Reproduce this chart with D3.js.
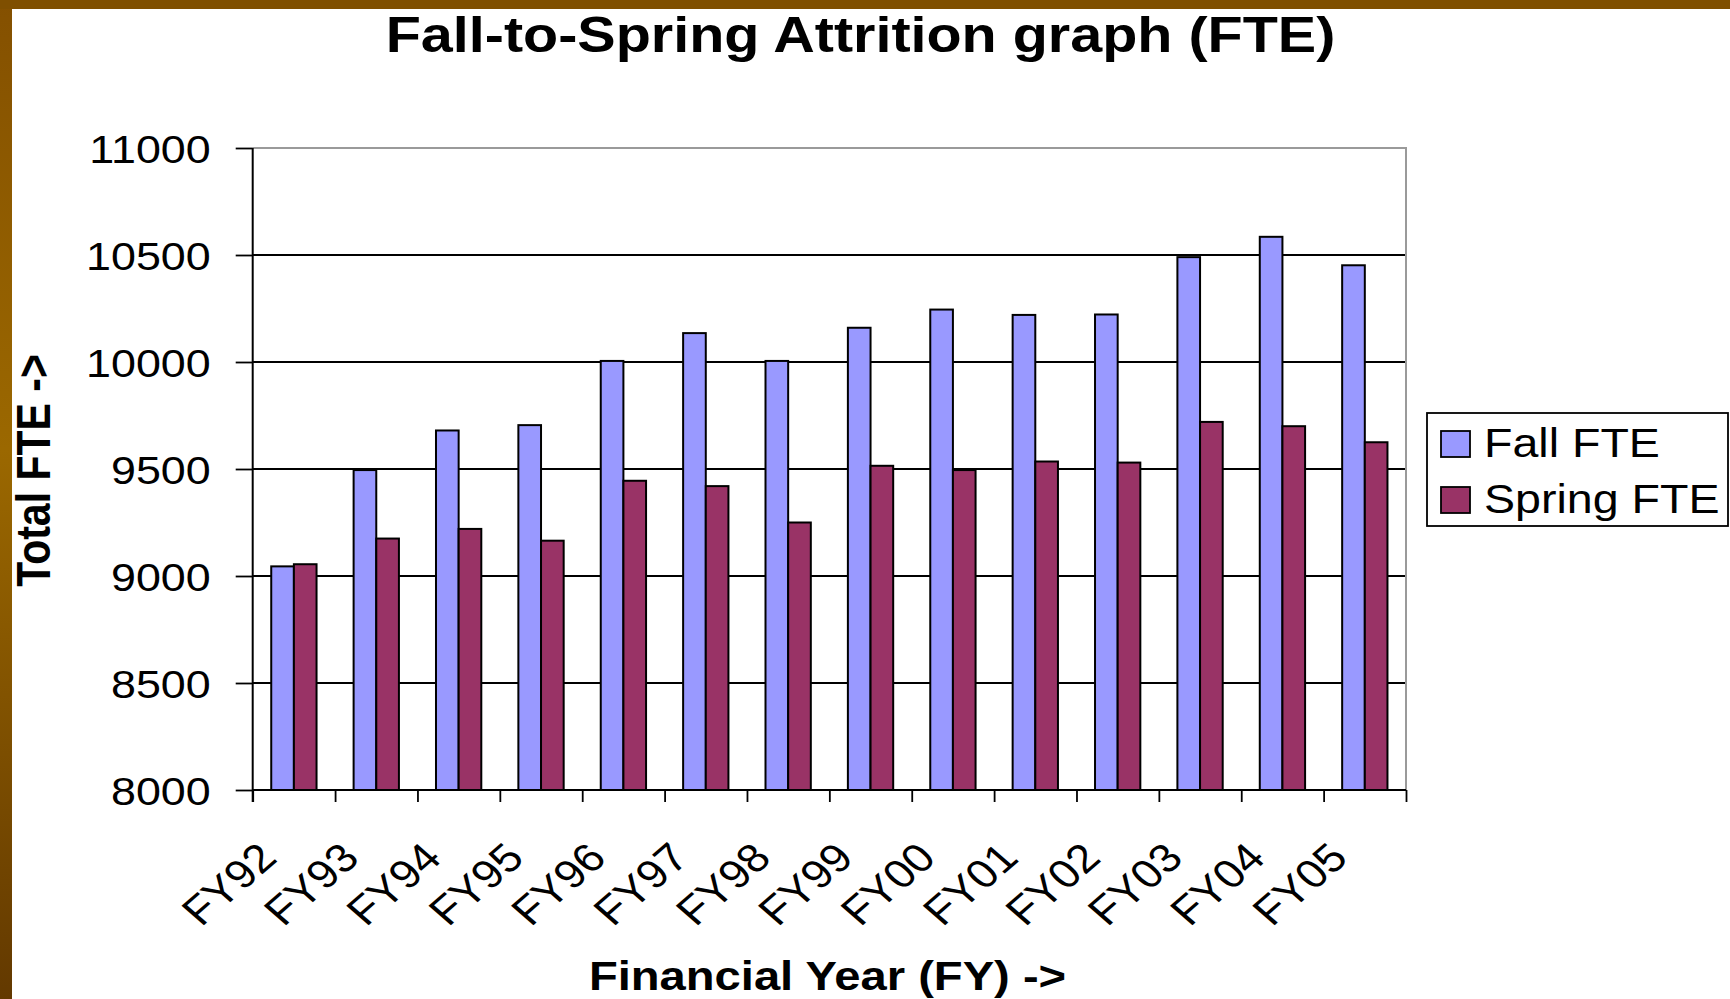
<!DOCTYPE html>
<html>
<head>
<meta charset="utf-8">
<title>Fall-to-Spring Attrition graph (FTE)</title>
<script src="https://cdn.jsdelivr.net/npm/d3@7"></script>
<style>
    body { margin: 0; background: #ffffff; }
    #chart { width: 1730px; height: 999px; }
    text { font-family: "Liberation Sans", Arial, sans-serif; fill: #000; }
</style>
</head>
<body>
<div id="chart"></div>
<script>
// Chart values
const years = ['FY92', 'FY93', 'FY94', 'FY95', 'FY96', 'FY97', 'FY98',
               'FY99', 'FY00', 'FY01', 'FY02', 'FY03', 'FY04', 'FY05'];
const fallFTE = [9045, 9495, 9680, 9705, 10005, 10135, 10005,
                 10160, 10245, 10220, 10222, 10490, 10585, 10452];
const springFTE = [9055, 9175, 9220, 9165, 9445, 9420, 9250,
                   9515, 9495, 9535, 9530, 9720, 9700, 9625];
const seriesNames = ['Fall FTE', 'Spring FTE'];
const yTicks = [8000, 8500, 9000, 9500, 10000, 10500, 11000];

const COLORS = { 'Fall FTE': '#9999ff', 'Spring FTE': '#993366' };
// the original slide picture is stretched sideways, text included
const SX = 1.15;

function drawChart() {
    const width = 1730, height = 999;
    const plot = { left: 252.7, right: 1406, top: 148, bottom: 790 };

    const svg = d3.select('#chart')
        .append('svg')
        .attr('width', width)
        .attr('height', height);

    // brown slide frame
    const defs = svg.append('defs');
    const grad = defs.append('linearGradient')
        .attr('id', 'frame-left')
        .attr('x1', 0).attr('y1', 0).attr('x2', 0).attr('y2', 1);
    grad.append('stop').attr('offset', '0%').attr('stop-color', '#845000');
    grad.append('stop').attr('offset', '45%').attr('stop-color', '#9b6800');
    grad.append('stop').attr('offset', '100%').attr('stop-color', '#633900');

    svg.append('rect').attr('x', 0).attr('y', 0).attr('width', width).attr('height', height)
        .attr('fill', '#ffffff');
    svg.append('rect').attr('x', 0).attr('y', 0).attr('width', 12).attr('height', height)
        .attr('fill', 'url(#frame-left)');
    svg.append('rect').attr('x', 0).attr('y', 0).attr('width', width).attr('height', 9)
        .attr('fill', '#7f4f00');

    const x = d3.scaleBand()
        .domain(years)
        .range([plot.left, plot.right])
        .padding(0);

    const bw = x.bandwidth();
    const groupW = bw * 0.55;
    const xInner = d3.scaleBand()
        .domain(seriesNames)
        .range([(bw - groupW) / 2, (bw + groupW) / 2])
        .padding(0);

    const y = d3.scaleLinear()
        .domain([8000, 11000])
        .range([plot.bottom, plot.top]);

    // gridlines
    svg.append('g')
        .selectAll('line')
        .data(yTicks.filter(d => d > 8000 && d < 11000))
        .enter()
        .append('line')
        .attr('x1', plot.left).attr('x2', plot.right)
        .attr('y1', d => y(d)).attr('y2', d => y(d))
        .attr('stroke', '#000')
        .attr('stroke-width', 1.8);

    // plot border, top and right in grey
    svg.append('path')
        .attr('d', `M${plot.left},${plot.top}H${plot.right}V${plot.bottom}`)
        .attr('fill', 'none')
        .attr('stroke', '#9a9a9a')
        .attr('stroke-width', 2);

    // bars
    const rows = years.map((yr, i) => ({ year: yr, values: [
        { key: 'Fall FTE', value: fallFTE[i] },
        { key: 'Spring FTE', value: springFTE[i] }
    ] }));

    svg.append('g')
        .selectAll('g')
        .data(rows)
        .enter()
        .append('g')
        .attr('transform', d => `translate(${x(d.year)},0)`)
        .selectAll('rect')
        .data(d => d.values)
        .enter()
        .append('rect')
        .attr('x', d => xInner(d.key))
        .attr('y', d => y(d.value))
        .attr('width', xInner.bandwidth())
        .attr('height', d => y(8000) - y(d.value))
        .attr('fill', d => COLORS[d.key])
        .attr('stroke', '#000')
        .attr('stroke-width', 2);

    // y axis
    const yAxis = svg.append('g')
        .attr('transform', `translate(${plot.left},0)`)
        .call(d3.axisLeft(y).tickValues(yTicks).tickFormat(d3.format('d'))
            .tickSize(17).tickSizeOuter(0));
    yAxis.select('.domain').attr('stroke', '#000').attr('stroke-width', 2)
        .attr('d', `M0,${plot.top}V${plot.bottom + 12}`);
    yAxis.selectAll('.tick line').attr('stroke', '#000').attr('stroke-width', 1.8);
    yAxis.selectAll('.tick text')
        .attr('x', null)
        .attr('dy', '0.36em')
        .attr('text-anchor', 'end')
        .attr('font-size', 39)
        .attr('font-family', '"Liberation Sans", Arial, sans-serif')
        .attr('transform', `translate(-42,0) scale(${SX},1)`);

    // x axis: ticks on category boundaries
    const xEdge = d3.scaleLinear()
        .domain([0, years.length])
        .range([plot.left, plot.right]);
    const xTicks = svg.append('g')
        .attr('transform', `translate(0,${plot.bottom})`)
        .call(d3.axisBottom(xEdge).ticks(years.length).tickSize(12).tickFormat(''));
    xTicks.select('.domain').attr('stroke', '#000').attr('stroke-width', 2)
        .attr('d', `M${plot.left},0H${plot.right}`);
    xTicks.selectAll('.tick line').attr('stroke', '#000').attr('stroke-width', 1.8);

    const xLabels = svg.append('g')
        .attr('transform', `translate(0,${plot.bottom})`)
        .call(d3.axisBottom(x).tickSize(0));
    xLabels.select('.domain').remove();
    xLabels.selectAll('.tick text')
        .attr('y', null)
        .attr('dy', null)
        .attr('text-anchor', 'end')
        .attr('font-size', 40)
        .attr('font-family', '"Liberation Sans", Arial, sans-serif')
        .attr('transform', `translate(-15,70) scale(${SX},1) rotate(-45)`);

    // titles
    svg.append('text')
        .attr('transform', `translate(860.5,52) scale(${SX},1)`)
        .attr('text-anchor', 'middle')
        .attr('font-size', 50)
        .attr('font-weight', 'bold')
        .text('Fall-to-Spring Attrition graph (FTE)');

    svg.append('text')
        .attr('transform', `translate(827.5,990) scale(${SX},1)`)
        .attr('text-anchor', 'middle')
        .attr('font-size', 41)
        .attr('font-weight', 'bold')
        .text('Financial Year (FY) ->');

    svg.append('text')
        .attr('transform', `translate(50,470.5) scale(${SX},1) rotate(-90)`)
        .attr('text-anchor', 'middle')
        .attr('font-size', 41)
        .attr('font-weight', 'bold')
        .text('Total FTE ->');

    // legend
    const legend = svg.append('g');
    legend.append('rect')
        .attr('x', 1427).attr('y', 413)
        .attr('width', 301).attr('height', 113)
        .attr('fill', '#fff')
        .attr('stroke', '#000')
        .attr('stroke-width', 1.8);

    const item = legend.selectAll('g.item')
        .data(seriesNames)
        .enter()
        .append('g')
        .attr('class', 'item')
        .attr('transform', (d, i) => `translate(1441,${431 + i * 56})`);
    item.append('rect')
        .attr('width', 29).attr('height', 26)
        .attr('fill', d => COLORS[d])
        .attr('stroke', '#000')
        .attr('stroke-width', 1.8);
    item.append('text')
        .attr('transform', `translate(43,26) scale(${SX},1)`)
        .attr('font-size', 40.5)
        .text(d => d);

    console.log('[Chart] drawn');
}

document.addEventListener('DOMContentLoaded', drawChart);
</script>
</body>
</html>
